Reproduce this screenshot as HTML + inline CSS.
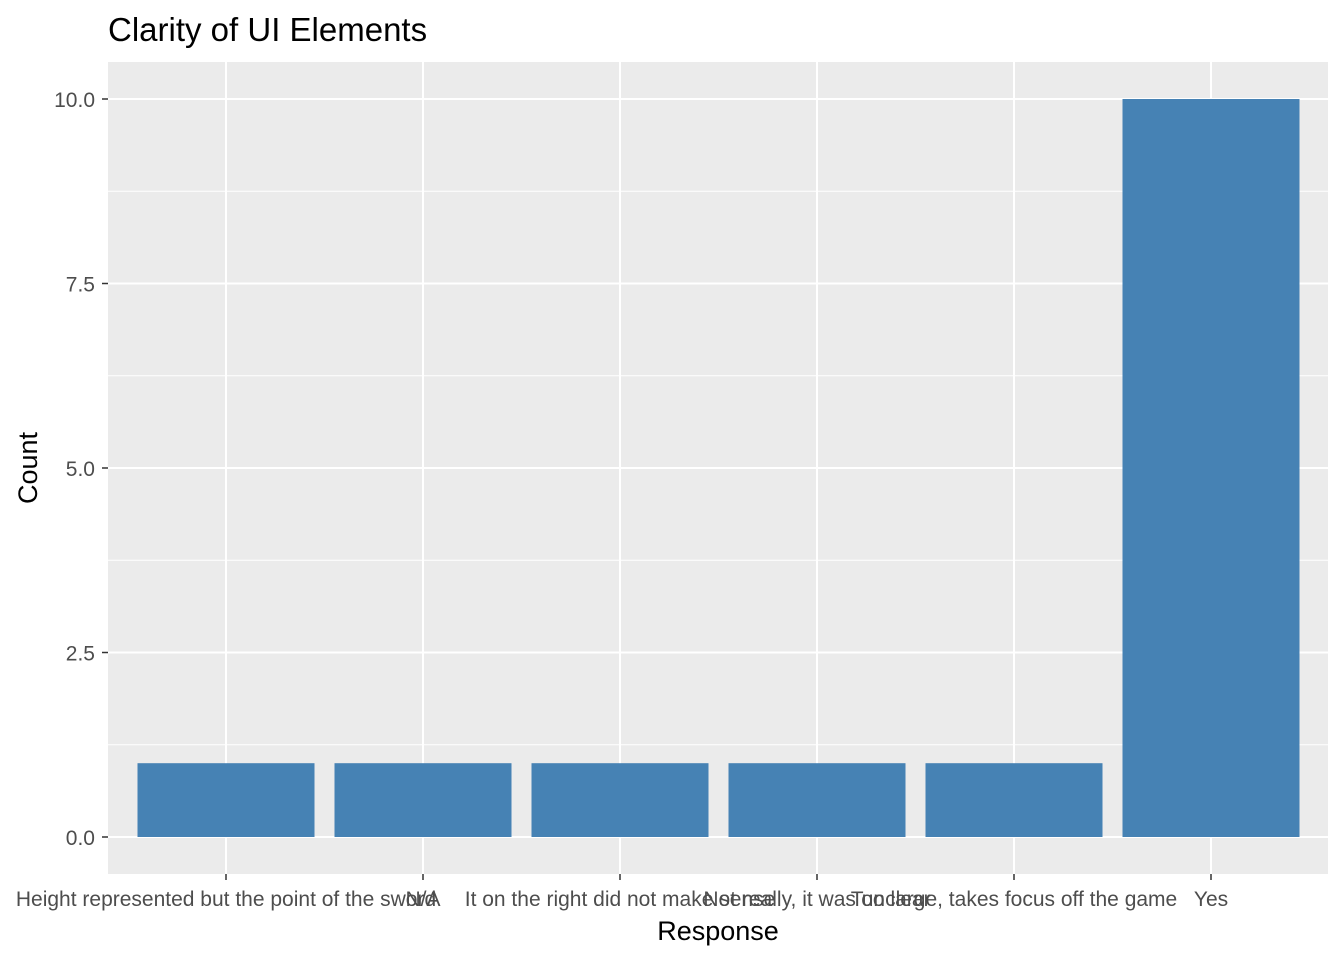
<!DOCTYPE html>
<html><head><meta charset="utf-8"><style>
body{margin:0;background:#fff;}
svg{display:block;font-family:"Liberation Sans",Arial,sans-serif;}
</style></head><body>
<svg id="chart" width="1344" height="960">
<text x="108" y="41" font-size="33" fill="#000">Clarity of UI Elements</text>
<rect x="108" y="62" width="1220" height="812" fill="#ebebeb"/>
<g id="grid"></g><g id="bars"></g><g id="axes"></g>
<text x="718" y="940" font-size="27" text-anchor="middle" fill="#000">Response</text>
<text transform="translate(37,468) rotate(-90)" font-size="27" text-anchor="middle" fill="#000">Count</text>
</svg>
<script>
const categories = ["Height represented but the point of the sword","N/A","It on the right did not make sense","Not really, it was unclear","Too large, takes focus off the game","Yes"];
const counts = [1,1,1,1,1,10];
const yTicks = [0,2.5,5,7.5,10];
const yTickLabels = ["0.0","2.5","5.0","7.5","10.0"];

const NS="http://www.w3.org/2000/svg";
const px0=108, px1=1328, py0=874, py1=62;
function y(v){return 837 + (v-0)*(99-837)/10;}
const step=197;
function x(i){return 226 + step*i;}
const barW=177;
function mk(tag,attrs,parent){const e=document.createElementNS(NS,tag);for(const k in attrs)e.setAttribute(k,attrs[k]);parent.appendChild(e);return e;}
const grid=document.getElementById('grid'), bars=document.getElementById('bars'), axes=document.getElementById('axes');
for(let i=0;i<yTicks.length-1;i++){
  const m=(yTicks[i]+yTicks[i+1])/2;
  const l=mk('line',{x1:px0,x2:px1,y1:y(m),y2:y(m),stroke:'#fff','stroke-width':1},grid);
  
  
}
yTicks.forEach((t,i)=>{
  const l=mk('line',{x1:px0,x2:px1,y1:y(t),y2:y(t),stroke:'#fff','stroke-width':2},grid);
  
  
  const tk=mk('line',{x1:102,x2:108,y1:y(t),y2:y(t),stroke:'#333','stroke-width':1.5},axes);
  
  
  const tx=mk('text',{x:95,y:y(t)+8,'font-size':21,'text-anchor':'end',fill:'#4d4d4d'},axes);
  tx.textContent=yTickLabels[i];
  
  
});
categories.forEach((c,i)=>{
  const g=mk('line',{x1:x(i),x2:x(i),y1:py1,y2:py0,stroke:'#fff','stroke-width':2},grid);
  
  
  const r=mk('rect',{x:x(i)-barW/2,y:y(counts[i]),width:barW,height:y(0)-y(counts[i]),fill:'#4682b4'},bars);
  
  
  const tk=mk('line',{x1:x(i),x2:x(i),y1:py0,y2:py0+6,stroke:'#333','stroke-width':1.5},axes);
  
  
  const tx=mk('text',{x:x(i),y:906,'font-size':21,'text-anchor':'middle',fill:'#4d4d4d'},axes);
  tx.textContent=c;
  
  
});
</script>
</body></html>
